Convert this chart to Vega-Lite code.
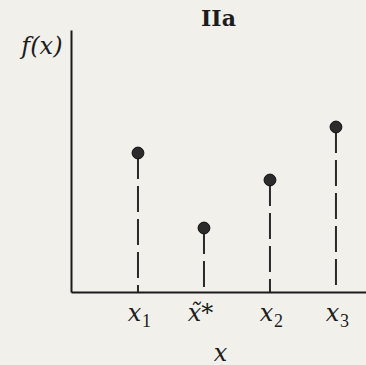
{
  "$schema": "https://vega.github.io/schema/vega-lite/v6.json",
  "width": 295,
  "height": 262,
  "autosize": {"type": "none"},
  "padding": {"left": 71, "top": 30, "right": 0, "bottom": 73},
  "background": "#f2f0eb",
  "title": {
    "text": "IIa",
    "font": "DejaVu Serif",
    "fontSize": 22,
    "fontWeight": "bold",
    "color": "#1c1c1c",
    "anchor": "middle",
    "baseline": "alphabetic",
    "offset": 1,
    "dy": 19
  },
  "data": {
    "values": [
      {"pos": 1, "name": "x1", "fx": 139},
      {"pos": 2, "name": "x~*", "fx": 64},
      {"pos": 3, "name": "x2", "fx": 112},
      {"pos": 4, "name": "x3", "fx": 165}
    ]
  },
  "encoding": {
    "y": {
      "field": "fx",
      "type": "quantitative",
      "scale": {"domain": [0, 262], "nice": false},
      "axis": {
        "labels": false,
        "ticks": false,
        "grid": false,
        "title": "f(x)",
        "titleFont": "DejaVu Serif",
        "titleFontStyle": "italic",
        "titleFontWeight": "normal",
        "titleFontSize": 24,
        "titleColor": "#1c1c1c",
        "titleAngle": 0,
        "titleAlign": "right",
        "titleBaseline": "alphabetic",
        "titleX": -9,
        "titleY": 23
      }
    }
  },
  "layer": [
    {
      "mark": {"type": "rule", "strokeDash": [26, 7], "strokeWidth": 2, "color": "#2a2a2a"},
      "encoding": {
        "x": {
          "field": "pos",
          "type": "quantitative",
          "scale": {"domain": [-0.015, 4.455], "nice": false, "zero": false},
          "axis": {
            "orient": "bottom",
            "values": [1, 2, 3, 4],
            "labelExpr": "['', 'x', 'x̃*', 'x', 'x'][datum.value]",
            "labelOffset": -4,
            "grid": false,
            "ticks": false,
            "tickSize": 0,
            "labelPadding": 28,
            "labelBaseline": "alphabetic",
            "labelFont": "DejaVu Serif",
            "labelFontStyle": "italic",
            "labelFontSize": 24,
            "labelColor": "#1c1c1c",
            "title": "x",
            "titleFont": "DejaVu Serif",
            "titleFontStyle": "italic",
            "titleFontWeight": "normal",
            "titleFontSize": 24,
            "titleColor": "#1c1c1c",
            "titleX": 149,
            "titleY": 68,
            "titleAlign": "center",
            "titleBaseline": "alphabetic"
          }
        },
        "y2": {"datum": 0}
      }
    },
    {
      "mark": {"type": "point", "filled": true, "size": 140, "color": "#2b2b2b", "opacity": 1, "stroke": "#111111", "strokeWidth": 1},
      "encoding": {
        "x": {
          "field": "pos",
          "type": "quantitative",
          "axis": {
            "orient": "bottom",
            "values": [1, 3, 4],
            "labelExpr": "['', '1', '', '2', '3'][datum.value]",
            "labelOffset": 8,
            "domain": false,
            "grid": false,
            "ticks": false,
            "tickSize": 0,
            "labelPadding": 34,
            "labelBaseline": "alphabetic",
            "labelFont": "Liberation Serif",
            "labelFontSize": 18,
            "labelColor": "#1c1c1c",
            "title": null
          }
        }
      }
    }
  ],
  "resolve": {"axis": {"x": "independent"}},
  "config": {
    "view": {"stroke": null},
    "axis": {"domainColor": "#1a1a1a", "domainWidth": 2}
  }
}
